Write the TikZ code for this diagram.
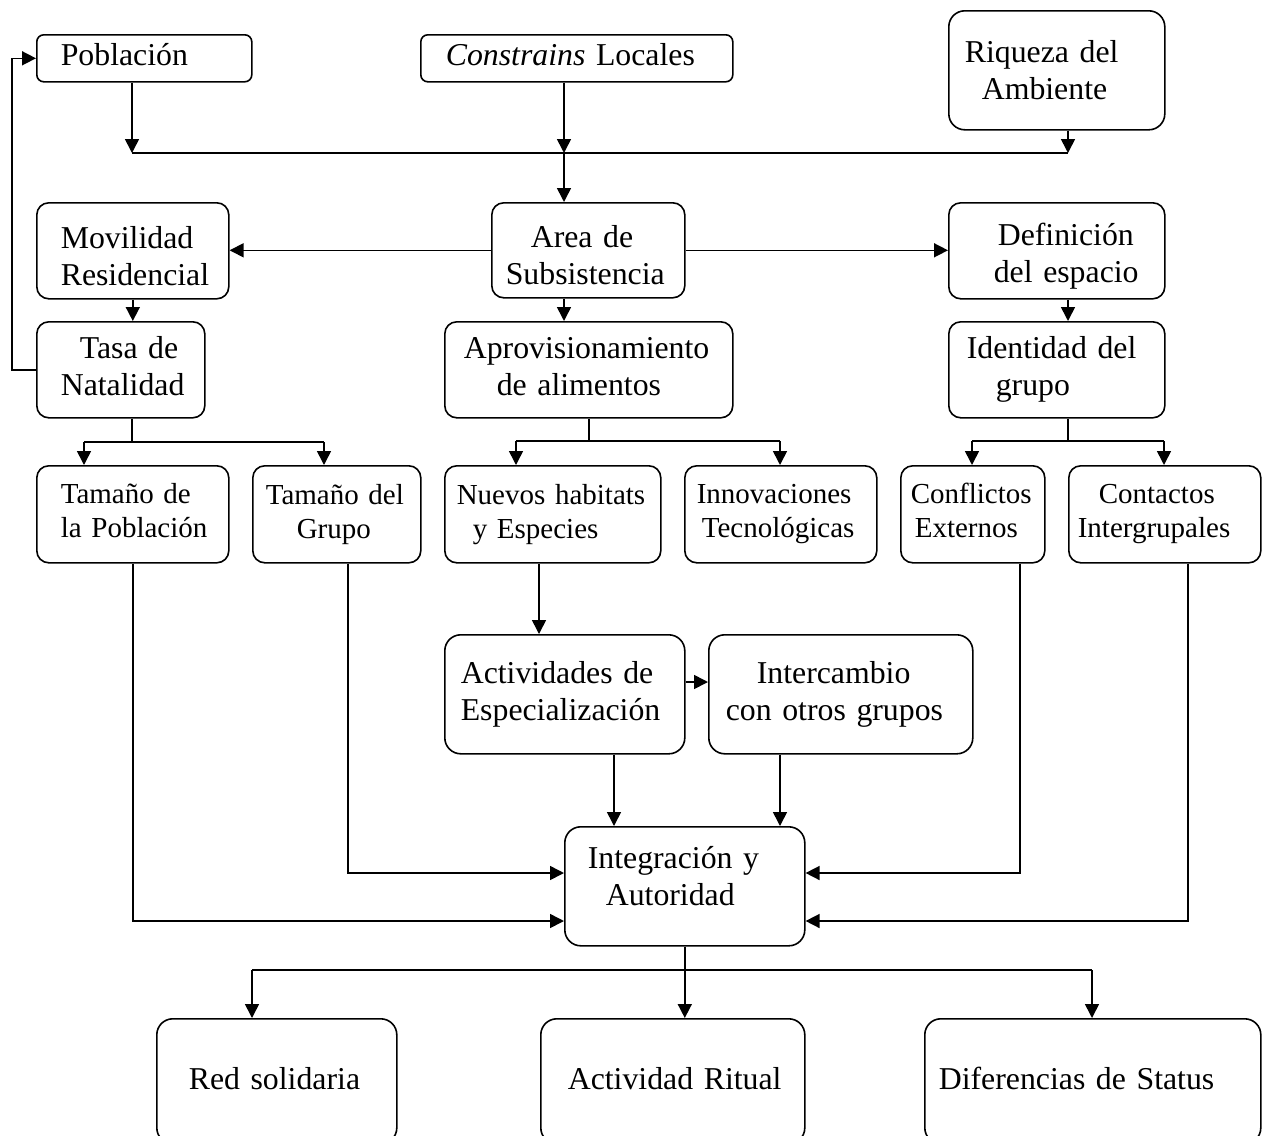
\documentclass[tikz,border=0pt]{standalone}
\usepackage{fontspec}
\setmainfont{Liberation Serif}
\usetikzlibrary{arrows.meta}

\newcommand{\ind}[1]{\hspace*{#1pt}}
\newcommand{\lift}[1]{\rule[-#1pt]{0pt}{0pt}}
\newcommand{\push}[1]{\rule{0pt}{#1pt}}

\begin{document}
\begin{tikzpicture}[
	x=1pt, y=-1pt, line width=1.6pt,
	box/.style={draw, rounded corners=12pt, anchor=north west, inner xsep=0pt, inner ysep=0pt, align=left, font=\fontsize{31.8}{37}\selectfont},
	small/.style={font=\fontsize{29}{34}\selectfont},
	>={Triangle[length=14pt,width=14pt]}
	]
	\useasboundingbox (0,0) rectangle (1262,1136);
	
	%-----------------------
	% Customizable heights (top of each row)
	%-----------------------
	\def\rowa{34}    % Row 1: sources
	\def\rowb{202}   % Row 2: area
	\def\rowc{321}   % Row 3: natalidad, alimentos, identidad
	\def\rowd{465}   % Row 4: tamanos, habitats, conflictos
	\def\rowe{634}   % Row 5: especializacion, intercambio
	\def\rowf{826}   % Row 6: integracion
	\def\rowg{1018}  % Row 7: results
	
	%-----------------------
	% Row 1: sources
	%-----------------------
	\node[box, rounded corners=7pt, text width=215, minimum height=47] (pob) at (36,\rowa) {\ind{24}Población\strut};
	\node[box, rounded corners=7pt, text width=312, minimum height=47] (con) at (420,\rowa) {\ind{25}\textit{Constrains} Locales\strut};
	\node[box, rounded corners=16pt, text width=216, minimum height=119] (riq) at (948,10) {\ind{16}Riqueza del\\\ind{33}Ambiente};
	
	%-----------------------
	% Row 2: area
	%-----------------------
	\node[box, text width=192, minimum height=96] (mov) at (36,\rowb) {\push{32}\ind{24}Movilidad\\\ind{24}Residencial};
	\node[box, text width=193, minimum height=95] (area) at (491,\rowb) {\push{32}\ind{39}Area de\\\ind{14}Subsistencia};
	\node[box, text width=216, minimum height=96] (def) at (948,\rowb) {\push{34}\ind{49}Definición\\\ind{45}del espacio};
	
	%-----------------------
	% Row 3
	%-----------------------
	\node[box, text width=168, minimum height=96] (tasa) at (36,\rowc) {\ind{43}Tasa de\\\ind{24}Natalidad\lift{7}};
	\node[box, text width=288, minimum height=96] (apro) at (444,\rowc) {\ind{19}Aprovisionamiento\\\ind{52}de alimentos\lift{6}};
	\node[box, text width=216, minimum height=96] (iden) at (948,\rowc) {\ind{18}Identidad del\\\ind{47}grupo};
	
	%-----------------------
	% Row 4
	%-----------------------
	\node[box, small, text width=192, minimum height=97] (tpob) at (36,\rowd) {\ind{24}Tamaño de\\\ind{24}la Población\lift{8}};
	\node[box, small, text width=168, minimum height=97] (tgru) at (252,\rowd) {\ind{13}Tamaño del\\\ind{44}Grupo};
	\node[box, small, text width=216, minimum height=97] (nuev) at (444,\rowd) {\ind{12}Nuevos habitats\\\ind{28}y Especies};
	\node[box, small, text width=192, minimum height=97] (inno) at (684,\rowd) {\ind{12}Innovaciones\\\ind{17}Tecnológicas};
	\node[box, small, text width=144, minimum height=97] (conf) at (900,\rowd) {\ind{10}Conflictos\\\ind{14}Externos\lift{8}};
	\node[box, small, text width=192, minimum height=97] (cont) at (1068,\rowd) {\ind{30}Contactos\\\ind{9}Intergrupales};
	
	%-----------------------
	% Row 5
	%-----------------------
	\node[box, rounded corners=16pt, text width=240, minimum height=119] (acti) at (444,\rowe) {\ind{16}Actividades de\\\ind{16}Especialización};
	\node[box, rounded corners=16pt, text width=264, minimum height=119] (inte) at (708,\rowe) {\ind{48}Intercambio\\\ind{17}con otros grupos};
	
	%-----------------------
	% Row 6: integration
	%-----------------------
	\node[box, rounded corners=16pt, text width=240, minimum height=119] (integ) at (564,\rowf) {\ind{23}Integración y\\\ind{41}Autoridad\lift{20}};
	
	%-----------------------
	% Row 7: results
	%-----------------------
	\node[box, rounded corners=16pt, text width=240, minimum height=125] (red) at (156,\rowg) {\ind{32}Red solidaria\lift{6}};
	\node[box, rounded corners=16pt, text width=264, minimum height=125] (rit) at (540,\rowg) {\ind{27}Actividad Ritual\lift{6}};
	\node[box, rounded corners=16pt, text width=336, minimum height=125] (dif) at (924,\rowg) {\ind{14}Diferencias de Status\lift{6}};
	
	%-----------------------
	% Junctions and columns
	%-----------------------
	\coordinate (busA) at (564,153);
	\coordinate (busA-l) at (132,153);
	\coordinate (busA-r) at (1068,153);
	\coordinate (busB-l) at (84,442);
	\coordinate (busB-r) at (324,442);
	\coordinate (busC-l) at (516,441);
	\coordinate (busC-r) at (780,441);
	\coordinate (busD-l) at (972,441);
	\coordinate (busD-r) at (1164,441);
	\coordinate (busE-l) at (252,970);
	\coordinate (busE-r) at (1092,970);
	\coordinate (loop) at (12,0);
	\coordinate (colN) at (539,0);
	\coordinate (colA) at (614,0);
	\coordinate (colI) at (780,0);
	\coordinate (colG) at (348,0);
	\coordinate (colC) at (1020,0);
	\coordinate (colK) at (1188,0);
	\coordinate (rowS) at (0,682);
	\coordinate (inA) at (0,873);
	\coordinate (inB) at (0,921);
	
	%-----------------------
	% Connections
	%-----------------------
	\tikzset{connect/.style={->}}
	
	% sources -> area
	\draw[connect] (pob.south -| busA-l) -- (busA-l);
	\draw[connect] (con.south -| busA) -- (busA);
	\draw[connect] (riq.south -| busA-r) -- (busA-r);
	\draw (busA-l) -- (busA-r);
	\draw[connect] (busA) -- (area.north -| busA);
	
	% area -> sides and down
	\draw[connect] (area.west) -- (area.west -| mov.east);
	\draw[connect] (area.east) -- (area.east -| def.west);
	\draw[connect] (mov.south) -- (mov.south |- tasa.north);
	\draw[connect] (area.south -| busA) -- (apro.north -| busA);
	\draw[connect] (def.south -| busA-r) -- (iden.north -| busA-r);
	
	% natalidad -> poblacion (feedback)
	\draw[connect] (tasa.west) -- (tasa.west -| loop) -- (loop |- pob.west) -- (pob.west);
	
	% row 3 -> row 4
	\draw (tasa.south -| busA-l) -- (busA-l |- busB-l);
	\draw (busB-l) -- (busB-r);
	\draw[connect] (busB-l) -- (busB-l |- tpob.north);
	\draw[connect] (busB-r) -- (busB-r |- tgru.north);
	
	\draw (apro.south) -- (apro.south |- busC-l);
	\draw (busC-l) -- (busC-r);
	\draw[connect] (busC-l) -- (busC-l |- nuev.north);
	\draw[connect] (busC-r) -- (busC-r |- inno.north);
	
	\draw (iden.south -| busA-r) -- (busA-r |- busD-l);
	\draw (busD-l) -- (busD-r);
	\draw[connect] (busD-l) -- (busD-l |- conf.north);
	\draw[connect] (busD-r) -- (busD-r |- cont.north);
	
	% habitats -> especializacion -> intercambio
	\draw[connect] (nuev.south -| colN) -- (acti.north -| colN);
	\draw[connect] (acti.east |- rowS) -- (inte.west |- rowS);
	
	% everything -> integracion
	\draw[connect] (acti.south -| colA) -- (integ.north -| colA);
	\draw[connect] (inte.south -| colI) -- (integ.north -| colI);
	\draw[connect] (tgru.south -| colG) |- (integ.west |- inA);
	\draw[connect] (tpob.south) |- (integ.west |- inB);
	\draw[connect] (conf.south -| colC) |- (integ.east |- inA);
	\draw[connect] (cont.south -| colK) |- (integ.east |- inB);
	
	% integracion -> results
	\draw (integ.south) -- (integ.south |- busE-l);
	\draw (busE-l) -- (busE-r);
	\draw[connect] (busE-l) -- (busE-l |- red.north);
	\draw[connect] (integ.south |- busE-l) -- (rit.north -| integ.south);
	\draw[connect] (busE-r) -- (busE-r |- dif.north);
	
\end{tikzpicture}
\end{document}
